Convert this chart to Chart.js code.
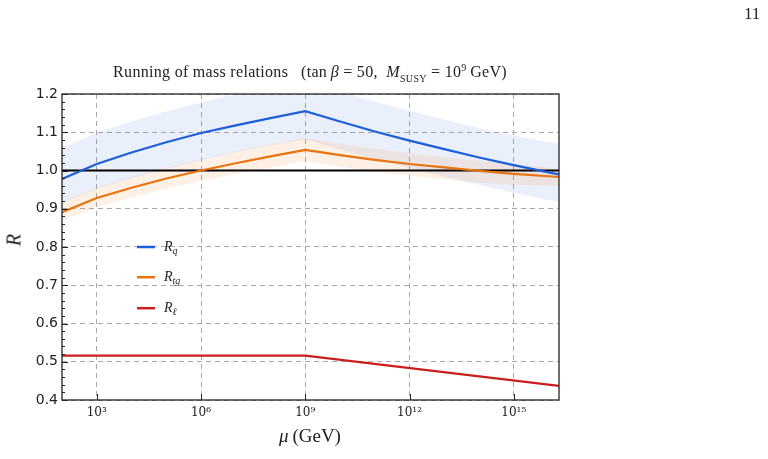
<!DOCTYPE html>
<html>
<head>
<meta charset="utf-8">
<script src="https://cdn.jsdelivr.net/npm/chart.js@4.4.1/dist/chart.umd.min.js"></script>
<style>
    html, body { margin: 0; padding: 0; background: #fff; }
    #wrap { position: relative; width: 768px; height: 459px; }
    #chart { position: absolute; left: 0; top: 0; }
    .txt { position: absolute; font-family: 'Liberation Serif', 'DejaVu Serif', serif; color: #222; white-space: nowrap; }
    #page-num { left: 744px; top: 4px; font-size: 17px; }
    #plot-title { left: 310px; top: 62px; font-size: 16px; letter-spacing: 0.3px; transform: translateX(-50%); }
    #plot-title sub, #plot-title sup { font-size: 10px; }
    #x-title { left: 310px; top: 425px; font-size: 19px; transform: translateX(-50%); }
    #y-title { left: 14px; top: 240px; font-size: 20px; font-style: italic; transform: translate(-50%, -50%) rotate(-90deg); }
</style>
</head>
<body>
<div id="wrap">
    <canvas id="chart" width="768" height="459"></canvas>
    <div class="txt" id="page-num">11</div>
    <div class="txt" id="plot-title">Running of mass relations &nbsp;&nbsp;(tan&thinsp;<i>β</i> = 50, &nbsp;<i>M</i><sub>SUSY</sub> = 10<sup>9</sup>&thinsp;GeV)</div>
    <div class="txt" id="x-title"><i>μ</i>&thinsp;(GeV)</div>
    <div class="txt" id="y-title">R</div>
</div>
<script>
// renormalisation scale (GeV)
const muValues = [1e2, 1e3, 1e4, 1e5, 1e6, 1e7, 1e8, 1e9, 1e10, 1e11, 1e12, 1e13, 1e14, 1e15, 1e16, 2e16];

// R_q with its band
const rQ      = [0.978, 1.017, 1.047, 1.074, 1.098, 1.118, 1.137, 1.155, 1.128, 1.102, 1.078, 1.056, 1.034, 1.014, 0.995, 0.990];
const rQUpper = [1.058, 1.098, 1.128, 1.154, 1.178, 1.199, 1.217, 1.235, 1.206, 1.180, 1.156, 1.133, 1.111, 1.091, 1.074, 1.070];
const rQLower = [0.916, 0.952, 0.980, 1.005, 1.027, 1.047, 1.066, 1.082, 1.055, 1.030, 1.006, 0.984, 0.962, 0.942, 0.923, 0.918];

// R_tg with its band
const rTg      = [0.891, 0.928, 0.955, 0.979, 1.000, 1.019, 1.037, 1.054, 1.040, 1.028, 1.017, 1.008, 0.999, 0.991, 0.985, 0.983];
const rTgUpper = [0.918, 0.955, 0.983, 1.007, 1.029, 1.049, 1.068, 1.085, 1.070, 1.057, 1.045, 1.035, 1.025, 1.017, 1.008, 1.004];
const rTgLower = [0.870, 0.904, 0.930, 0.953, 0.973, 0.991, 1.008, 1.024, 1.010, 0.997, 0.986, 0.977, 0.968, 0.963, 0.960, 0.959];

// R_l
const redMu = [1e2, 1e9, 2e16];
const rL    = [0.516, 0.516, 0.437];

// reference line R = 1
const unityMu = [1e2, 2e16];
const unity   = [1, 1];

const xTickValues = [1e3, 1e6, 1e9, 1e12, 1e15];
const yMin = 0.4, yMax = 1.2;

const BLUE = '#1c5fd9';
const ORANGE = '#e8730f';
const RED = '#cc1d1d';

const pts = (xs, ys) => xs.map((x, i) => ({ x, y: ys[i] }));
const sup = { '0':'⁰','1':'¹','2':'²','3':'³','4':'⁴','5':'⁵','6':'⁶','7':'⁷','8':'⁸','9':'⁹' };

function lineSet(label, xs, ys, color, width) {
    return { label, data: pts(xs, ys), borderColor: color, borderWidth: width, pointRadius: 0, fill: false, tension: 0 };
}
function bandSet(xs, ys, color, fill) {
    return { label: '', data: pts(xs, ys), borderWidth: 0, borderColor: 'transparent', backgroundColor: color, pointRadius: 0, fill, tension: 0 };
}

// frame, inward ticks and the legend
const framePlugin = {
    id: 'frame',
    afterDraw(chart) {
        const { ctx, chartArea: a, scales } = chart;
        ctx.save();
        ctx.strokeStyle = '#222';
        ctx.lineWidth = 1;
        for (let i = 20; i <= 60; i++) {
            const y = Math.round(scales.y.getPixelForValue(i / 50)) + 0.5;
            const len = i % 5 === 0 ? 6 : 3;
            ctx.beginPath();
            ctx.moveTo(a.left, y);
            ctx.lineTo(a.left + len, y);
            ctx.stroke();
        }
        xTickValues.forEach(v => {
            const x = Math.round(scales.x.getPixelForValue(v)) + 0.5;
            ctx.beginPath();
            ctx.moveTo(x, a.bottom);
            ctx.lineTo(x, a.bottom - 6);
            ctx.stroke();
        });
        ctx.lineWidth = 1.3;
        ctx.strokeRect(a.left, a.top, a.right - a.left, a.bottom - a.top);

        // legend
        const items = [
            { color: BLUE, sub: 'q', y: 0.800 },
            { color: ORANGE, sub: 'tg', y: 0.721 },
            { color: RED, sub: 'ℓ', y: 0.640 }
        ];
        const x0 = a.left + 75;
        items.forEach(it => {
            const y = scales.y.getPixelForValue(it.y);
            ctx.strokeStyle = it.color;
            ctx.lineWidth = 2.5;
            ctx.beginPath();
            ctx.moveTo(x0, y);
            ctx.lineTo(x0 + 18, y);
            ctx.stroke();
            ctx.fillStyle = '#222';
            ctx.textBaseline = 'alphabetic';
            ctx.font = 'italic 14px "Liberation Serif", serif';
            ctx.fillText('R', x0 + 27, y + 4);
            const w = ctx.measureText('R').width;
            ctx.font = 'italic 10px "Liberation Serif", serif';
            ctx.fillText(it.sub, x0 + 27 + w, y + 7);
        });
        ctx.restore();
    }
};

const gridColor = '#a8a8a8';

new Chart(document.getElementById('chart'), {
    type: 'line',
    data: {
        datasets: [
            lineSet('R_q', muValues, rQ, BLUE, 2.2),
            lineSet('R_tg', muValues, rTg, ORANGE, 2.2),
            lineSet('R_l', redMu, rL, RED, 2.2),
            lineSet('unity', unityMu, unity, '#000', 2),
            bandSet(muValues, rTgUpper, 'rgba(245,140,45,0.13)', '+1'),
            bandSet(muValues, rTgLower, 'rgba(245,140,45,0.13)', false),
            bandSet(muValues, rQUpper, 'rgba(60,110,225,0.11)', '+1'),
            bandSet(muValues, rQLower, 'rgba(60,110,225,0.11)', false)
        ]
    },
    options: {
        responsive: false,
        animation: false,
        layout: { padding: { left: 0, right: 209, top: 94, bottom: 0 } },
        plugins: {
            legend: { display: false },
            tooltip: { enabled: false },
            title: { display: false }
        },
        scales: {
            x: {
                type: 'logarithmic',
                min: 1e2,
                max: 2e16,
                afterBuildTicks: scale => { scale.ticks = xTickValues.map(v => ({ value: v })); },
                afterFit: scale => { scale.height = 59; },
                ticks: {
                    autoSkip: false,
                    maxRotation: 0,
                    padding: 6,
                    color: '#222',
                    font: { family: '"DejaVu Serif", serif', size: 12 },
                    callback: v => '10' + String(Math.round(Math.log10(v))).split('').map(c => sup[c]).join('')
                },
                grid: { color: gridColor, lineWidth: 1, drawTicks: false },
                border: { display: false, dash: [5, 4] }
            },
            y: {
                min: yMin,
                max: yMax,
                afterFit: scale => { scale.width = 62; },
                ticks: {
                    stepSize: 0.1,
                    padding: 4,
                    color: '#222',
                    font: { family: '"DejaVu Sans", sans-serif', size: 14 },
                    callback: v => v.toFixed(1)
                },
                grid: { color: gridColor, lineWidth: 1, drawTicks: false },
                border: { display: false, dash: [5, 4] }
            }
        }
    },
    plugins: [framePlugin]
});
</script>
</body>
</html>
